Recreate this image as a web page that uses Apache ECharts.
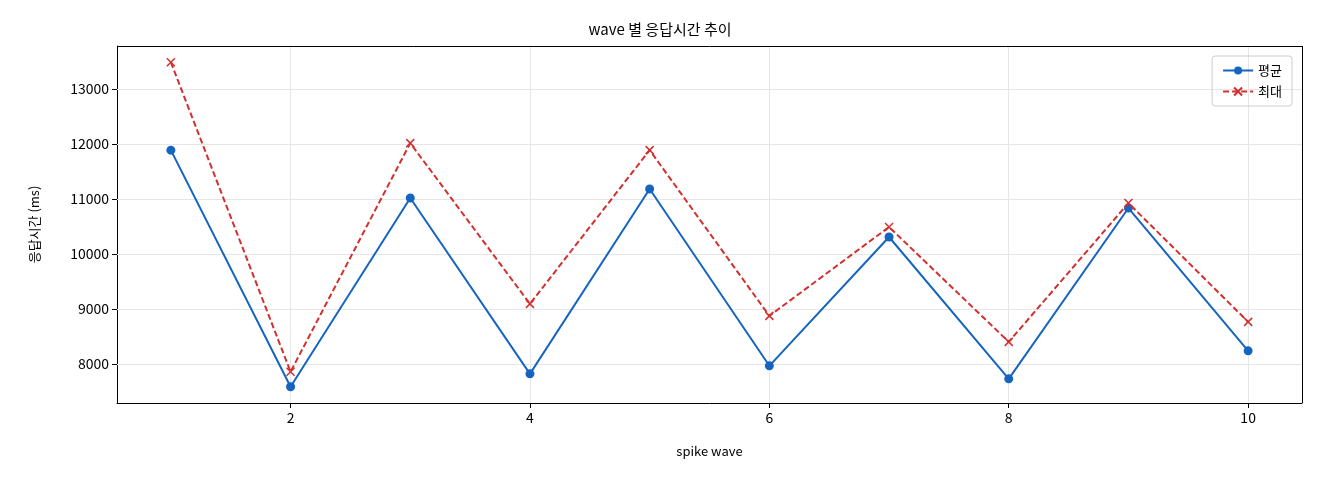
<!DOCTYPE html>
<html><head><meta charset="utf-8">
<script src="https://cdn.jsdelivr.net/npm/echarts@6/dist/echarts.min.js"></script>
<style>html,body{margin:0;padding:0;background:#fff}#c{width:1320px;height:480px}</style>
</head><body><div id="c"></div>
<script>
const waves = [1,2,3,4,5,6,7,8,9,10];
const avgMs = [11890,7582,11018,7818,11182,7964,10309,7727,10836,8236];
const maxMs = [13491,7855,12018,9091,11891,8873,10491,8400,10927,8764];
const xTicks = [2,4,6,8,10];
const yTicks = [8000,9000,10000,11000,12000,13000];
const F = '"Noto Sans CJK KR","DejaVu Sans",sans-serif';
const chart = echarts.init(document.getElementById('c'));
const gridLines = xTicks.map(v=>({xAxis:v})).concat(yTicks.map(v=>({yAxis:v})));
chart.setOption({
  animation:false,
  title:{text:'wave 별 응답시간 추이',left:'center',top:17,textStyle:{fontFamily:F,fontSize:15,fontWeight:'normal',color:'#000'}},
  legend:{right:28,top:56,orient:'vertical',itemGap:8,borderColor:'#ccc',borderWidth:1,borderRadius:3,padding:[8,10],
    textStyle:{fontFamily:F,fontSize:13,color:'#000'},itemWidth:30,itemHeight:10,
    data:['평균','최대']},
  grid:{left:117,right:18,top:46,bottom:77},
  xAxis:{type:'value',min:0.55,max:10.45,name:'spike wave',nameLocation:'middle',nameGap:42,
    nameTextStyle:{fontFamily:F,fontSize:13,color:'#000'},
    axisLine:{show:true,onZero:false,lineStyle:{color:'#000'}},
    axisTick:{show:true,customValues:xTicks,lineStyle:{color:'#000'}},
    axisLabel:{customValues:xTicks,fontFamily:F,fontSize:14,color:'#000'},
    splitLine:{show:false}},
  yAxis:{type:'value',min:7287,max:13786,name:'응답시간 (ms)',nameLocation:'middle',nameGap:76,
    nameTextStyle:{fontFamily:F,fontSize:13,color:'#000'},
    axisLine:{show:true,onZero:false,lineStyle:{color:'#000'}},
    axisTick:{show:true,customValues:yTicks,lineStyle:{color:'#000'}},
    axisLabel:{customValues:yTicks,formatter:v=>String(v),fontFamily:F,fontSize:14,color:'#000'},
    splitLine:{show:false}},
  series:[
    {name:'평균',type:'line',data:waves.map((w,i)=>[w,avgMs[i]]),symbol:'circle',symbolSize:9,
      lineStyle:{color:'#1565c0',width:2},itemStyle:{color:'#1565c0'},z:3,
      markLine:{silent:true,symbol:'none',label:{show:false},lineStyle:{color:'#e6e6e6',type:'solid',width:1},data:gridLines,z:1}},
    {name:'최대',type:'line',data:waves.map((w,i)=>[w,maxMs[i]]),symbol:'path://M0,0L10,10M10,0L0,10',symbolSize:8,
      lineStyle:{color:'#d32f2f',width:2,type:[6,3]},itemStyle:{color:'none',borderColor:'#d32f2f',borderWidth:1.5},z:4},
    {type:'line',data:[],markLine:{silent:true,symbol:'none',label:{show:false},lineStyle:{color:'#000',type:'solid',width:1},
      data:[{yAxis:13786},{xAxis:10.45}]}}
  ]
});
</script></body></html>
